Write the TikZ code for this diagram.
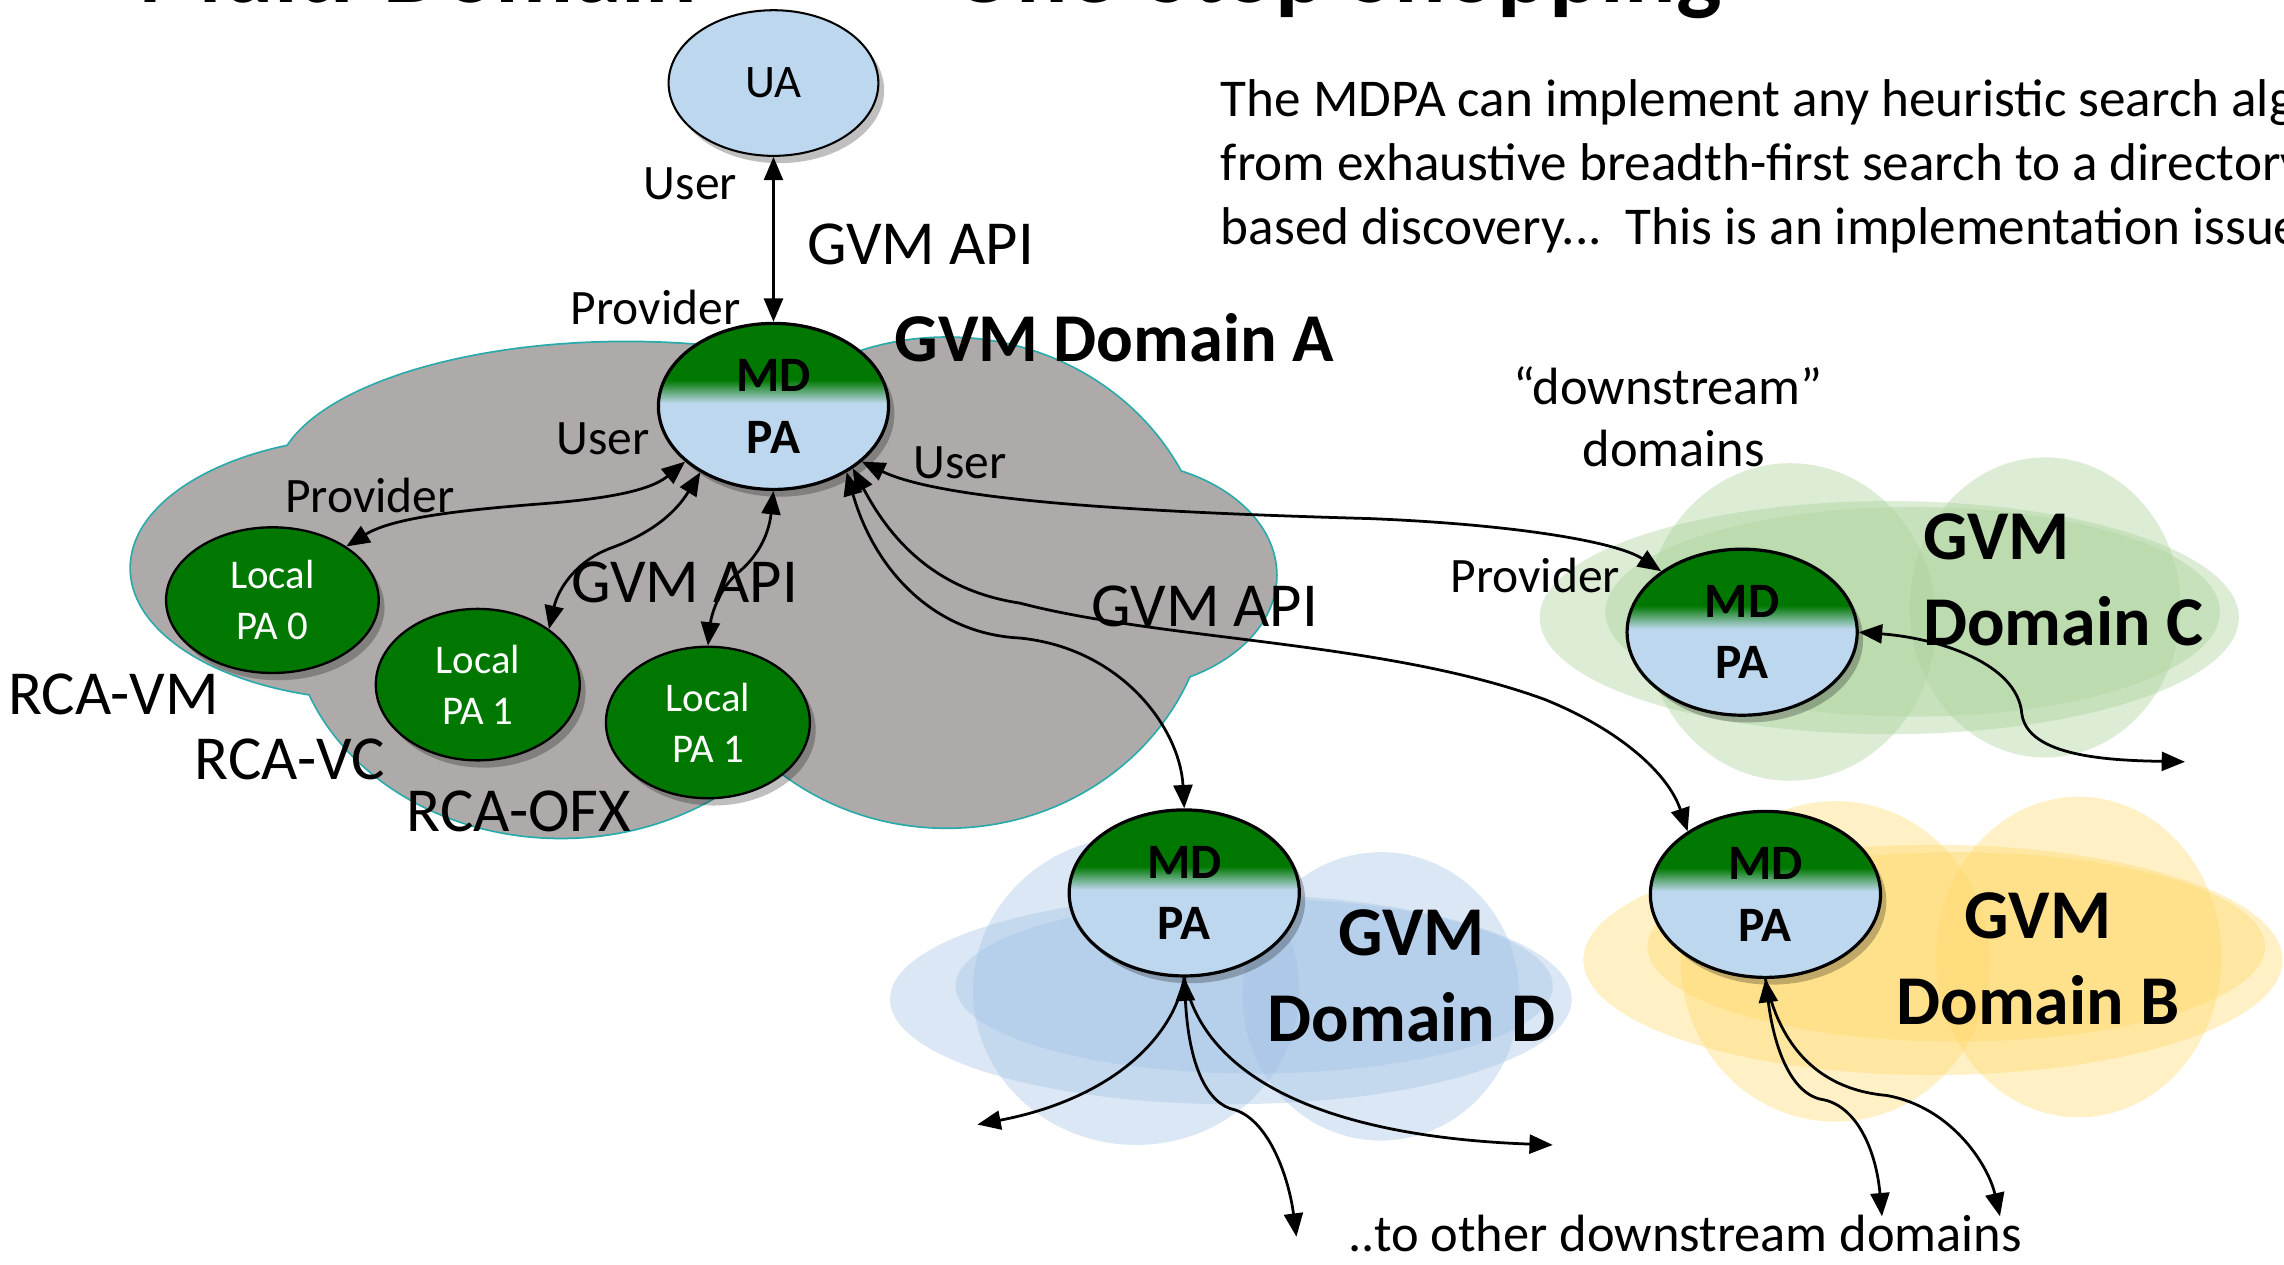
\documentclass[tikz,border=0pt]{standalone}
\usepackage{fontspec}
\setmainfont{Carlito}
\usetikzlibrary{arrows.meta,shapes.geometric,shadows}
\definecolor{dgreen}{RGB}{0,120,0}
\definecolor{lblue}{RGB}{189,215,238}
\definecolor{cgray}{RGB}{174,170,170}
\definecolor{cteal}{RGB}{40,170,170}
\definecolor{cgreen}{RGB}{173,211,157}
\definecolor{cblue}{RGB}{161,193,229}
\definecolor{cyellow}{RGB}{255,217,105}
\pgfdeclareverticalshading{mdpaShade}{100bp}{color(0bp)=(lblue); color(51bp)=(lblue); color(58bp)=(dgreen); color(100bp)=(dgreen)}
\tikzset{
  >={Triangle[length=16pt,width=13pt]},
  conn/.style={line width=1.9pt, draw=black},
  shd/.style={drop shadow={shadow xshift=4pt, shadow yshift=-5pt, opacity=0.25, fill=black}},
  mdnode/.style={ellipse, draw=black, line width=2.2pt, shade, shading=mdpaShade, minimum width=158pt, minimum height=114pt, inner sep=0pt, align=center, font=\fontsize{34}{42}\selectfont\bfseries, shd},
  localnode/.style={ellipse, draw=black, line width=1.6pt, fill=dgreen, text=white, inner sep=0pt, align=center, font=\fontsize{28}{35}\selectfont, shd},
  uanode/.style={ellipse, draw=black, line width=1.4pt, fill=lblue, minimum width=144pt, minimum height=100pt, inner sep=0pt, font=\fontsize{32}{36}\selectfont, shd},
  lbl/.style={inner sep=0pt, font=\fontsize{34}{40}\selectfont},
  api/.style={inner sep=0pt, font=\fontsize{43}{50}\selectfont},
  dom/.style={inner sep=0pt, font=\fontsize{48}{59}\selectfont\bfseries},
  para/.style={inner sep=0pt, font=\fontsize{36.5}{44}\selectfont, anchor=base west},
  ttl/.style={inner sep=0pt, font=\fontsize{66}{72}\selectfont\bfseries},
}
\begin{document}
\begin{tikzpicture}[x=1pt,y=-1pt]
\useasboundingbox (0,0) rectangle (1568,868);
\clip (0,0) rectangle (1568,868);
\fill[white] (0,0) rectangle (1568,868);

% ---- clouds ----
\foreach \cx/\cy/\rx/\ry in {260/390/170/90, 430/330/240/95, 385/420/185/155, 650/400/180/168, 765/395/111/78}
  {\draw[cteal, line width=2.4pt] (\cx,\cy) ellipse [x radius=\rx pt, y radius=\ry pt];}
\foreach \cx/\cy/\rx/\ry in {260/390/170/90, 430/330/240/95, 385/420/185/155, 650/400/180/168, 765/395/111/78}
  {\fill[cgray] (\cx,\cy) ellipse [x radius=\rx pt, y radius=\ry pt];}

\foreach \cx/\cy/\rx/\ry in {1297/424/240/80, 1313/420/211/72, 1229/427/100/109, 1404/417/93/103}
  {\fill[cgreen, fill opacity=0.42] (\cx,\cy) ellipse [x radius=\rx pt, y radius=\ry pt];}
\foreach \cx/\cy/\rx/\ry in {845/686/234/72, 861/677/205/60, 780/680/112/106, 948/684/95/99}
  {\fill[cblue, fill opacity=0.38] (\cx,\cy) ellipse [x radius=\rx pt, y radius=\ry pt];}
\foreach \cx/\cy/\rx/\ry in {1327/659/240/79, 1343/650/212/65, 1260/660/106/110, 1427/657/98/110}
  {\fill[cyellow, fill opacity=0.38] (\cx,\cy) ellipse [x radius=\rx pt, y radius=\ry pt];}

% ---- title (cut off at the top, as in the original) ----
\node[ttl, anchor=base west] (ttlL) at (95,1.5) {Multi-Domain};
\node[ttl, anchor=base east] (ttlR) at (1182,1.5) {One-Stop Shopping};

% ---- nodes ----
\node[uanode] (ua) at (531,57) {UA};
\node[mdnode] (mdA) at (531,279) {MD\\PA};
\node[mdnode] (mdC) at (1196,434) {MD\\PA};
\node[mdnode] (mdD) at (813,613) {MD\\PA};
\node[mdnode] (mdB) at (1212,614) {MD\\PA};
\node[localnode, minimum width=146pt, minimum height=100pt] (lpa0) at (187,412) {Local\\PA 0};
\node[localnode, minimum width=140pt, minimum height=104pt] (lpa1a) at (328,470) {Local\\PA 1};
\node[localnode, minimum width=140pt, minimum height=104pt] (lpa1b) at (486,496) {Local\\PA 1};

\coordinate (cOut) at (1500,523);
\coordinate (dL) at (671,772);
\coordinate (dB) at (890,849);
\coordinate (dR) at (1066,786);
\coordinate (bA) at (1292,835);
\coordinate (bB) at (1373,835);

% ---- connectors ----
\draw[conn,<->] (ua.south) -- (mdA.north);
\draw[conn,<->] (mdA.212) .. controls (445,338) and (410,343) .. (370,346) .. controls (320,350) and (270,355) .. (lpa0.36);
\draw[conn,<->] (mdA.222) .. controls (465,350) and (450,365) .. (420,376) .. controls (395,385) and (383,405) .. (lpa1a.38);
\draw[conn,<->] (mdA.south) .. controls (528,365) and (522,380) .. (508,392) .. controls (492,405) and (488,425) .. (lpa1b.north);
\draw[conn,<->] (mdA.318) .. controls (600,390) and (640,435) .. (700,438) .. controls (770,445) and (810,500) .. (mdD.north);
\draw[conn,<->] (mdA.322) .. controls (610,368) and (640,405) .. (700,414) .. controls (800,440) and (950,440) .. (1060,480) .. controls (1110,500) and (1145,530) .. (mdB.141);
\draw[conn,<->] (mdA.328) .. controls (650,345) and (800,352) .. (940,356) .. controls (1040,360) and (1110,372) .. (mdC.143);

\draw[conn,<->] (mdC.east) .. controls (1330,438) and (1385,455) .. (1388,490) .. controls (1392,520) and (1450,522) .. (cOut);

\draw[conn,->] (mdD.south) .. controls (805,715) and (760,755) .. (dL);
\draw[conn,<->] (mdD.south) .. controls (816,730) and (828,758) .. (848,762) .. controls (872,770) and (885,810) .. (dB);
\draw[conn,->] (mdD.south) .. controls (825,735) and (900,780) .. (dR);

\draw[conn,<->] (mdB.south) .. controls (1218,720) and (1230,752) .. (1252,755) .. controls (1275,760) and (1288,790) .. (bA);
\draw[conn,->] (mdB.south) .. controls (1222,720) and (1250,748) .. (1295,752) .. controls (1340,760) and (1365,800) .. (bB);

% ---- labels ----
\node[lbl] (l1) at (474,126) {User};
\node[api] (l2) at (632,168) {GVM API};
\node[lbl] (l3) at (450,211) {Provider};
\node[dom, font=\fontsize{47}{56}\selectfont\bfseries] (l4) at (765,232) {GVM Domain A};
\node[lbl] (l5) at (414,301) {User};
\node[lbl] (l6) at (254,340) {Provider};
\node[lbl] (l7) at (659,318) {User};
\node[api] (l8) at (470,400) {GVM API};
\node[api] (l9) at (827,416) {GVM API};
\node[api] (l10) at (78,477) {RCA-VM};
\node[api] (l11) at (199,521) {RCA-VC};
\node[api] (l12) at (356,557) {RCA-OFX};
\node[lbl, font=\fontsize{36}{43}\selectfont] (l13) at (1145,265) {“downstream”};
\node[lbl, font=\fontsize{36}{43}\selectfont] (l14) at (1149,308) {domains};
\node[lbl] (l15) at (1054,395) {Provider};
\node[dom, align=left, anchor=west] (domC) at (1320,398) {GVM\\Domain C};
\node[dom, align=center] (domD) at (969,670) {GVM\\Domain D};
\node[dom, align=center] (domB) at (1399,658) {GVM\\Domain B};
\node[lbl, font=\fontsize{36}{43}\selectfont] (l16) at (1157,847) {..to other downstream domains};

\node[para] (p1) at (838,80) {The MDPA can implement any heuristic search algorithm};
\node[para] (p2) at (838,124) {from exhaustive breadth-first search to a directory};
\node[para] (p3) at (838,168) {based discovery...\ \ This is an implementation issue};
\end{tikzpicture}
\end{document}
